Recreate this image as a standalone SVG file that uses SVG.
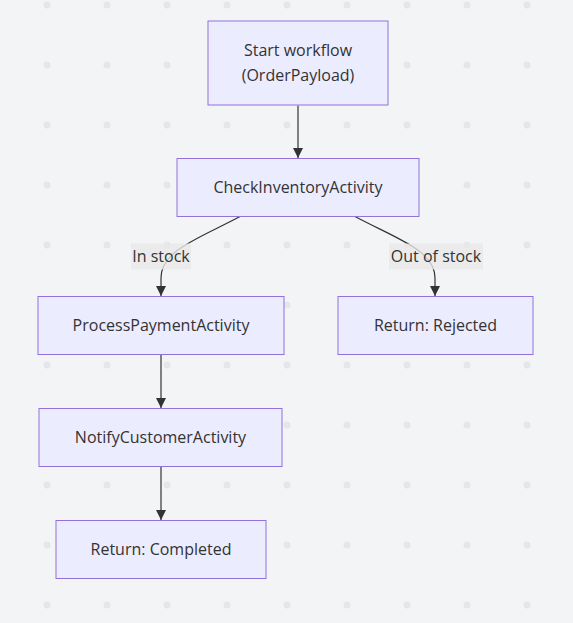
<svg xmlns="http://www.w3.org/2000/svg" width="573" height="623" viewBox="0 0 573 623">
<style>
.node rect{fill:#ECECFF;stroke:#9370DB;stroke-width:1}
text{font-family:"Open Sans","Liberation Sans",Arial,sans-serif;font-size:16px;fill:#333;text-anchor:middle;dominant-baseline:central}
.edge{fill:none;stroke:#333;stroke-width:1.2}
.lbl rect{fill:#e8e8e8;opacity:0.8}
</style>
<defs>
<pattern id="dots" patternUnits="userSpaceOnUse" x="17" y="-25" width="60" height="60">
<circle cx="30" cy="30" r="3.5" fill="#e5e6e9"/>
</pattern>
<marker id="arr" viewBox="0 0 10 10" refX="10" refY="5" markerWidth="10" markerHeight="10" markerUnits="userSpaceOnUse" orient="auto">
<path d="M0,0 L10,5 L0,10 z" fill="#333"/>
</marker>
</defs>
<rect width="573" height="623" fill="#f3f4f6"/>
<rect width="573" height="623" fill="url(#dots)"/>
<g id="edges">
<path class="edge" d="M298,105.5 L298,158" marker-end="url(#arr)"/>
<path class="edge" d="M240,216.5 C200,238 161,250 161,278 L161,296" marker-end="url(#arr)"/>
<path class="edge" d="M355,216.5 C395,238 435,250 435,278 L435,296" marker-end="url(#arr)"/>
<path class="edge" d="M161,354.5 L161,408" marker-end="url(#arr)"/>
<path class="edge" d="M161,466.5 L161,520" marker-end="url(#arr)"/>
</g>
<g id="edge-labels">
<g class="lbl"><rect x="131" y="243.5" width="60" height="26"/><text x="161" y="256">In stock</text></g>
<g class="lbl"><rect x="389" y="243.5" width="94" height="26"/><text x="436" y="256">Out of stock</text></g>
</g>
<g id="start" class="node"><rect x="208" y="21" width="180" height="84"/><text x="298" y="50">Start workflow</text><text x="298" y="75">(OrderPayload)</text></g>
<g id="check" class="node"><rect x="177" y="158.5" width="242" height="58"/><text x="298" y="187">CheckInventoryActivity</text></g>
<g id="payment" class="node"><rect x="38" y="296.5" width="246" height="58"/><text x="161" y="325">ProcessPaymentActivity</text></g>
<g id="rejected" class="node"><rect x="338" y="296.5" width="195" height="58"/><text x="435.5" y="325">Return: Rejected</text></g>
<g id="notify" class="node"><rect x="39" y="408.5" width="243" height="58"/><text x="160.5" y="437">NotifyCustomerActivity</text></g>
<g id="completed" class="node"><rect x="56" y="520.5" width="210" height="58"/><text x="161" y="549">Return: Completed</text></g>
</svg>
